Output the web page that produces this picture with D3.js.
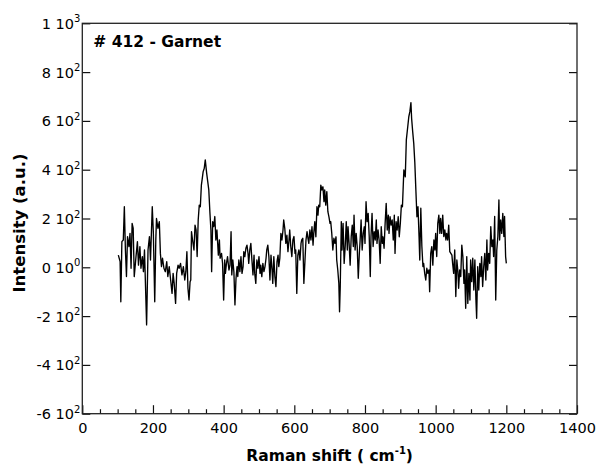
<!DOCTYPE html>
<html lang="en">
<head>
  <meta charset="UTF-8" />
  <title># 412 - Garnet</title>
  <script src="https://d3js.org/d3.v7.min.js"></script>
  <style>
    body {
      margin: 0;
      padding: 0;
      background: #fff;
      overflow: hidden;
    }
    svg text {
      font-family: "DejaVu Sans", sans-serif;
      fill: #000;
    }
  </style>
</head>
<body>
  <div id="chart"></div>
  <script>
    // spectrum
    const ramanShift = [
      102, 107, 109, 112, 116, 119, 122, 125, 128, 132, 135, 138, 141, 144, 147, 152, 156, 159, 163, 166,
      170, 173, 176, 182, 186, 190, 193, 198, 201, 205, 208, 210, 214, 218, 221, 224, 227, 231, 235, 239,
      242, 246, 250, 254, 257, 260, 264, 267, 271, 274, 278, 282, 286, 290, 293, 296, 299, 302, 305, 307,
      309, 312, 316, 319, 322, 325, 328, 331, 334, 337, 339, 342, 345, 348,
      352, 355, 358, 361, 364, 366, 369, 372, 375, 378, 381, 385, 388, 390, 394, 397, 400, 403, 405, 408,
      411, 415, 418, 421, 423, 426, 429, 432, 435, 438, 440, 443, 446, 449, 452, 455, 457, 460, 463, 466,
      469, 471, 474, 477, 480, 483, 486, 488, 491, 494, 497, 500, 503, 505, 508, 511, 514, 517, 520, 522,
      525, 528, 531, 534, 537, 539, 542, 545, 548, 551, 554, 556, 559, 562, 565, 568, 570, 573, 576, 579,
      582, 585, 587, 590, 593, 596, 599, 602, 604, 607, 610, 613, 616, 619, 621, 624, 627,
      633, 636, 638, 641, 644, 647, 650, 653, 655, 658, 661, 664, 667, 669, 672, 675, 678, 681, 684, 686,
      689, 692, 695, 698, 701, 703, 706, 709, 712, 715, 718, 720, 723, 726, 728, 730, 733, 735, 738, 741,
      744, 747, 750, 752, 755, 758, 761, 764, 767, 769, 772, 775, 778, 781, 784, 786, 789, 792, 795, 798,
      800, 803, 806, 809, 812, 815, 817, 820, 823, 826, 829, 832, 834, 837, 840, 843, 846, 849, 851, 854,
      857, 860, 863, 866, 868, 871, 874, 877, 880, 883, 885, 888, 891, 894, 897, 900,
      903, 906, 910, 914, 917, 921, 924, 927, 930, 932, 935, 938, 941, 944, 947, 950, 953, 955, 958, 961,
      964, 966, 969, 972, 975, 978, 981, 983, 986, 989, 992, 995, 998, 1000, 1003, 1006, 1009, 1012, 1014, 1017,
      1020, 1023, 1026, 1029, 1031, 1034, 1037, 1040, 1043, 1046, 1048, 1051, 1054, 1057, 1060, 1063, 1065, 1068, 1071, 1074,
      1077, 1080, 1082, 1085, 1088, 1091, 1094, 1097, 1099, 1102, 1105, 1108, 1111, 1114, 1116, 1119, 1122, 1125, 1128, 1130,
      1133, 1136, 1139, 1142, 1145, 1147, 1150, 1153, 1156, 1159, 1162, 1164, 1167, 1170, 1173, 1176, 1179, 1181, 1184, 1187,
      1190, 1193, 1195, 1198, 1200
    ];
    const intensity = [
      50, 23, -141, 105, 112, 248, 71, -38, 126, 85, 139, -4, 180, 160, -38, 44, 105, 9, 85, -4,
      44, -18, 71, -236, 71, 126, 30, 248, 146, -141, 112, 200, 160, 187, 57, 3, 37, -4, -18, 23,
      -38, 3, -52, -107, -25, -66, -148, -25, 9, -4, 16, -31, 3, -52, -18, 64, -86, -134, -59, -52,
      146, 112, 71, 173, 153, 44, 194, 255, 248, 337, 358, 392, 405, 440,
      385, 351, 317, 228, 153, -18, 187, 167, 208, 112, 153, 50, 112, 37, 57, 16, -134, 30, -25, 16,
      44, -11, 9, 146, -31, 30, -18, -154, -45, 3, -38, 30, -18, 44, -25, 3, 64, 44, 78, 91,
      57, 16, 71, 98, 30, -31, 50, -25, -66, 30, -4, 44, -25, 9, -38, 16, -18, 3, 37, 71,
      91, 44, -52, 50, -11, -66, 44, -38, -79, 23, 50, 3, 37, 139, 112, 153, 194, 160, 98, 132,
      64, 112, 153, 85, 44, 112, 126, 57, 71, -107, 50, 71, 30, 98, 112, 119, -66,
      112, 146, 125, 98, 153, 112, 166, 91, 139, 187, 125, 248, 214, 255, 248, 337, 317, 330, 269, 317,
      255, 310, 228, 207, 180, 187, 139, 71, 119, 98, 125, 30, -11, -66, -182, -79, 187, 71, 180, 16,
      85, 187, 71, 166, 98, 9, 125, 173, 85, 214, 71, 139, 85, -45, 57, 105, 194, 71, 139, 166,
      98, 269, 187, 221, 125, -38, 125, 221, 85, 146, 112, 194, 98, 153, 112, 16, 166, 98, 125, 78,
      180, 262, 153, 214, 139, 207, 173, 194, 112, 214, 57, 187, 153, 207, 125, 180,
      255, 248, 399, 371, 522, 576, 617, 638, 675, 610, 556, 508, 430, 317, 207, 248, 126, 30, 242, 85,
      3, 16, -25, -52, -4, -25, -11, -100, 57, 85, 9, 112, 71, 139, 44, 180, 214, 139, 200, 139,
      214, 126, 153, 112, 139, 112, 173, 64, 57, 50, 16, -25, 71, -120, 30, -18, -86, -11, -38, 91,
      44, -66, -11, -168, 44, -148, -25, -134, 30, -59, 37, -93, 30, -134, -209, 3, -93, 16, -38, 44,
      -79, 3, 57, -52, 112, -11, 57, 16, 167, 85, 112, 44, 208, -134, 71, 126, 276, 112, 194, 139,
      221, 126, 208, 44, 16
    ];

    const xTickValues = [0, 200, 400, 600, 800, 1000, 1200, 1400];
    const xTickLabels = ["0", "200", "400", "600", "800", "1000", "1200", "1400"];
    const xMinorTickValues = [50, 100, 150, 250, 300, 350, 450, 500, 550, 650, 700, 750,
                              850, 900, 950, 1050, 1100, 1150, 1250, 1300, 1350];
    const yTickValues = [-600, -400, -200, 0, 200, 400, 600, 800, 1000];
    const yTickMantissa = ["-6", "-4", "-2", "0", "2", "4", "6", "8", "1"];
    const yTickExponent = ["2", "2", "2", "0", "2", "2", "2", "2", "3"];
    const sampleName = "# 412 - Garnet";

    const width = 597;
    const height = 469;
    const margin = { top: 23.3, right: 20, bottom: 55.3, left: 82.3 };
    const plotW = width - margin.left - margin.right;
    const plotH = height - margin.top - margin.bottom;

    const svg = d3.select("#chart")
      .append("svg")
      .attr("width", width)
      .attr("height", height);

    const g = svg.append("g")
      .attr("transform", `translate(${margin.left},${margin.top})`);

    const x = d3.scaleLinear().domain([0, 1400]).range([0, plotW]);
    const y = d3.scaleLinear().domain([-600, 1000]).range([plotH, 0]);

    // bottom axis, major + minor ticks pointing inward
    const xAxis = g.append("g")
      .attr("transform", `translate(0,${plotH})`)
      .call(d3.axisBottom(x).tickValues(xTickValues).tickSizeInner(-8.5).tickSizeOuter(0)
        .tickFormat((d, i) => xTickLabels[i]));
    xAxis.selectAll("text")
      .attr("y", 19.8)
      .attr("dy", 0)
      .style("font-size", "14.5px");

    g.append("g")
      .attr("transform", `translate(0,${plotH})`)
      .call(d3.axisBottom(x).tickValues(xMinorTickValues).tickSizeInner(-4.5).tickSizeOuter(0).tickFormat(""));

    // left axis with "m 10^e" labels
    const yAxis = g.append("g")
      .call(d3.axisLeft(y).tickValues(yTickValues).tickSizeInner(-8).tickSizeOuter(0).tickFormat(""));
    yAxis.selectAll(".tick text").remove();
    yAxis.selectAll(".tick").each(function(d, i) {
      const t = d3.select(this).append("text")
        .attr("x", -2)
        .attr("y", 5)
        .attr("text-anchor", "end")
        .style("font-size", "14.5px");
      t.append("tspan").text(yTickMantissa[i] + " 10");
      t.append("tspan")
        .attr("dy", -6.5)
        .style("font-size", "10px")
        .text(yTickExponent[i]);
    });

    // right axis, ticks only
    g.append("g")
      .attr("transform", `translate(${plotW},0)`)
      .call(d3.axisRight(y).tickValues(yTickValues).tickSizeInner(-8).tickSizeOuter(0).tickFormat(""));

    g.selectAll(".domain").remove();
    g.selectAll(".tick line").attr("stroke", "#111").attr("stroke-width", 1.2);

    g.append("rect")
      .attr("width", plotW)
      .attr("height", plotH)
      .attr("fill", "none")
      .attr("stroke", "#222")
      .attr("stroke-width", 1.3);

    const line = d3.line()
      .x((d, i) => x(ramanShift[i]))
      .y(d => y(d));

    g.append("path")
      .datum(intensity)
      .attr("fill", "none")
      .attr("stroke", "#000")
      .attr("stroke-width", 1.35)
      .attr("stroke-linejoin", "round")
      .attr("d", line);

    g.append("text")
      .attr("x", 11)
      .attr("y", 23.3)
      .style("font-size", "15.5px")
      .style("font-weight", "bold")
      .text(sampleName);

    // axis titles
    svg.append("text")
      .attr("transform", `translate(25,223) rotate(-90)`)
      .attr("text-anchor", "middle")
      .style("font-size", "16.5px")
      .style("font-weight", "bold")
      .text("Intensity (a.u.)");

    const xt = svg.append("text")
      .attr("x", margin.left + plotW / 2)
      .attr("y", 461)
      .attr("text-anchor", "middle")
      .style("font-size", "15.5px")
      .style("font-weight", "bold");
    xt.append("tspan").text("Raman shift ( cm");
    xt.append("tspan").attr("dy", -7).style("font-size", "10px").text("-1");
    xt.append("tspan").attr("dy", 7).text(")");
  </script>
</body>
</html>
